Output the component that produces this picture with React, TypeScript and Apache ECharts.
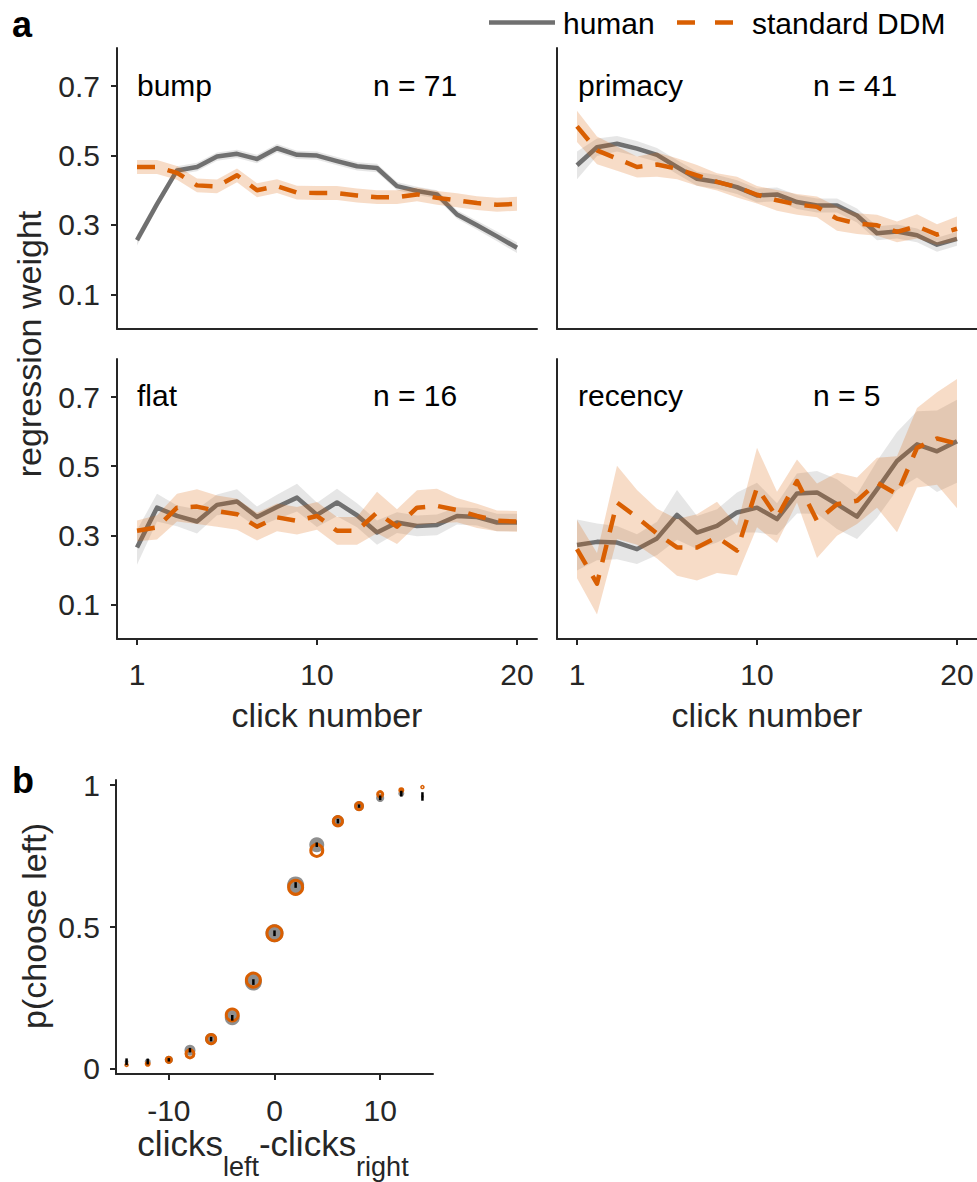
import React, { useEffect, useRef } from 'react';
import * as echarts from 'echarts';

// ---------- data ----------
const clickNumbers = [1, 2, 3, 4, 5, 6, 7, 8, 9, 10, 11, 12, 13, 14, 15, 16, 17, 18, 19, 20];
const weightTicks = [0.1, 0.3, 0.5, 0.7];
const clickTicks = [1, 10, 20];

const bumpHuman = [0.256, 0.36, 0.457, 0.467, 0.497, 0.505, 0.49, 0.521, 0.502, 0.5, 0.484, 0.469, 0.464, 0.412, 0.398, 0.388, 0.33, 0.299, 0.267, 0.234];
const bumpHumanErr = [0.015, 0.013, 0.012, 0.012, 0.012, 0.012, 0.012, 0.012, 0.012, 0.012, 0.012, 0.012, 0.012, 0.012, 0.012, 0.012, 0.012, 0.013, 0.014, 0.015];
const bumpDDM = [0.467, 0.467, 0.45, 0.414, 0.411, 0.443, 0.4, 0.412, 0.393, 0.392, 0.392, 0.385, 0.38, 0.38, 0.388, 0.378, 0.371, 0.363, 0.358, 0.361];
const bumpDDMErr = [0.02, 0.02, 0.02, 0.02, 0.02, 0.02, 0.02, 0.02, 0.02, 0.02, 0.02, 0.02, 0.02, 0.02, 0.02, 0.02, 0.02, 0.02, 0.02, 0.02];

const primacyHuman = [0.472, 0.524, 0.534, 0.52, 0.502, 0.467, 0.433, 0.424, 0.409, 0.385, 0.388, 0.366, 0.356, 0.356, 0.327, 0.276, 0.281, 0.27, 0.243, 0.26];
const primacyHumanErr = [0.04, 0.025, 0.022, 0.022, 0.02, 0.02, 0.02, 0.02, 0.02, 0.02, 0.02, 0.02, 0.02, 0.02, 0.02, 0.02, 0.02, 0.02, 0.02, 0.02];
const primacyDDM = [0.584, 0.515, 0.491, 0.467, 0.474, 0.462, 0.443, 0.424, 0.409, 0.387, 0.371, 0.359, 0.352, 0.318, 0.304, 0.299, 0.28, 0.296, 0.272, 0.289];
const primacyDDMErr = [0.045, 0.04, 0.035, 0.03, 0.035, 0.03, 0.03, 0.025, 0.03, 0.025, 0.03, 0.03, 0.03, 0.035, 0.03, 0.03, 0.03, 0.035, 0.03, 0.035];

const flatHuman = [0.265, 0.38, 0.356, 0.34, 0.388, 0.398, 0.353, 0.382, 0.409, 0.359, 0.395, 0.358, 0.308, 0.337, 0.327, 0.33, 0.356, 0.353, 0.337, 0.337];
const flatHumanErr = [0.05, 0.04, 0.03, 0.035, 0.03, 0.035, 0.03, 0.035, 0.04, 0.035, 0.04, 0.035, 0.035, 0.03, 0.03, 0.03, 0.025, 0.025, 0.025, 0.025];
const flatDDM = [0.313, 0.323, 0.38, 0.383, 0.37, 0.361, 0.325, 0.352, 0.342, 0.356, 0.313, 0.313, 0.366, 0.325, 0.38, 0.385, 0.373, 0.356, 0.342, 0.34];
const flatDDMErr = [0.03, 0.035, 0.04, 0.05, 0.045, 0.045, 0.04, 0.04, 0.04, 0.04, 0.04, 0.04, 0.06, 0.05, 0.05, 0.05, 0.035, 0.035, 0.03, 0.03];

const recencyHuman = [0.272, 0.281, 0.279, 0.26, 0.291, 0.359, 0.308, 0.327, 0.366, 0.38, 0.347, 0.421, 0.424, 0.39, 0.354, 0.433, 0.515, 0.563, 0.543, 0.572];
const recencyHumanErr = [0.074, 0.053, 0.048, 0.043, 0.048, 0.072, 0.048, 0.048, 0.058, 0.072, 0.046, 0.058, 0.062, 0.072, 0.065, 0.082, 0.084, 0.096, 0.118, 0.12];
const recencyDDM = [0.26, 0.16, 0.395, 0.352, 0.305, 0.265, 0.265, 0.294, 0.256, 0.438, 0.352, 0.457, 0.342, 0.39, 0.4, 0.452, 0.419, 0.553, 0.58, 0.565];
const recencyDDMErr = [0.084, 0.089, 0.106, 0.079, 0.072, 0.082, 0.096, 0.103, 0.072, 0.115, 0.074, 0.062, 0.108, 0.091, 0.067, 0.072, 0.11, 0.115, 0.134, 0.187];

const panelNames = ['bump', 'primacy', 'flat', 'recency'];
const panelCounts = ['n = 71', 'n = 41', 'n = 16', 'n = 5'];

const evidenceDiff = [-14, -12, -10, -8, -6, -4, -2, 0, 2, 4, 6, 8, 10, 12, 14];
const humanChoice = [0.025, 0.026, 0.032, 0.066, 0.105, 0.18, 0.306, 0.478, 0.648, 0.79, 0.873, 0.926, 0.955, 0.97, 0.96];
const humanChoiceErr = [0.012, 0.01, 0.006, 0.008, 0.008, 0.01, 0.01, 0.01, 0.01, 0.008, 0.008, 0.006, 0.008, 0.01, 0.015];
const ddmChoice = [0.014, 0.018, 0.032, 0.053, 0.105, 0.19, 0.313, 0.478, 0.64, 0.77, 0.873, 0.926, 0.968, 0.982, 0.993];
const trialCounts = [120, 250, 380, 560, 630, 810, 940, 1000, 940, 810, 630, 500, 380, 250, 60];
const choiceXTicks = [-10, 0, 10];
const choiceYTicks = [0, 0.5, 1];

// ---------- styles ----------
const FONT = "'Liberation Sans', Arial, Helvetica, sans-serif";
const INK = '#262626';
const HUMAN = '#707070';
const HUMAN_BAND = 'rgba(128,128,128,0.2)';
const DDM = '#D95F02';
const DDM_BAND = 'rgba(217,95,2,0.22)';

const panels = [
  { human: bumpHuman, humanErr: bumpHumanErr, ddm: bumpDDM, ddmErr: bumpDDMErr },
  { human: primacyHuman, humanErr: primacyHumanErr, ddm: primacyDDM, ddmErr: primacyDDMErr },
  { human: flatHuman, humanErr: flatHumanErr, ddm: flatDDM, ddmErr: flatDDMErr },
  { human: recencyHuman, humanErr: recencyHumanErr, ddm: recencyDDM, ddmErr: recencyDDMErr },
];

const gridBoxes = [
  { left: 117, top: 48, width: 420, height: 281 },
  { left: 557, top: 48, width: 420, height: 281 },
  { left: 117, top: 359, width: 420, height: 280 },
  { left: 557, top: 359, width: 420, height: 280 },
  { left: 116, top: 780, width: 317, height: 294 },
];

const panelTextPos = [
  { x1: 137, x2: 373, y: 85 },
  { x1: 578, x2: 813, y: 85 },
  { x1: 137, x2: 373, y: 395 },
  { x1: 578, x2: 813, y: 395 },
];

function axisLineStyle() {
  return { show: true, onZero: false, lineStyle: { color: INK, width: 2 } };
}

function bandSeries(idx: number, mean: number[], err: number[], fill: string, z: number) {
  return {
    type: 'custom',
    xAxisIndex: idx,
    yAxisIndex: idx,
    silent: true,
    z,
    data: [[clickNumbers[0], mean[0]]],
    renderItem: (_params: any, api: any) => {
      const up = clickNumbers.map((c, i) => api.coord([c, mean[i] + err[i]]));
      const lo = clickNumbers.map((c, i) => api.coord([c, mean[i] - err[i]])).reverse();
      return { type: 'polygon', shape: { points: up.concat(lo) }, style: { fill } };
    },
  };
}

function lineSeries(idx: number, name: string, mean: number[], color: string, dashed: boolean, z: number) {
  return {
    type: 'line',
    name,
    xAxisIndex: idx,
    yAxisIndex: idx,
    z,
    silent: true,
    symbol: 'none',
    showSymbol: false,
    data: clickNumbers.map((c, i) => [c, mean[i]]),
    lineStyle: { color, width: 4.5, type: dashed ? [18, 13] : 'solid', cap: 'butt', join: 'round' },
    itemStyle: { color },
  };
}

function markerSize(count: number) {
  const maxCount = Math.max(...trialCounts);
  return 2 + 16 * (count / maxCount);
}

function buildOption() {
  const grid = gridBoxes.map((g) => ({ ...g, outerBoundsMode: 'none', containLabel: false }));

  const xAxis: any[] = [];
  const yAxis: any[] = [];
  for (let i = 0; i < 4; i++) {
    const bottomRow = i >= 2;
    const leftCol = i % 2 === 0;
    xAxis.push({
      type: 'value',
      gridIndex: i,
      min: 0,
      max: 21,
      axisLine: axisLineStyle(),
      axisTick: { show: bottomRow, inside: false, length: 6, customValues: clickTicks, lineStyle: { color: INK, width: 2 } },
      axisLabel: { show: bottomRow, customValues: clickTicks, margin: 20, fontSize: 30, fontFamily: FONT, color: INK },
      splitLine: { show: false },
      name: bottomRow ? 'click number' : '',
      nameLocation: 'middle',
      nameGap: 59,
      nameTextStyle: { fontSize: 34, fontFamily: FONT, color: INK },
    });
    yAxis.push({
      type: 'value',
      gridIndex: i,
      min: 0,
      max: 0.81,
      axisLine: axisLineStyle(),
      axisTick: { show: leftCol, inside: false, length: 6, customValues: weightTicks, lineStyle: { color: INK, width: 2 } },
      axisLabel: { show: leftCol, customValues: weightTicks, margin: 17, fontSize: 30, fontFamily: FONT, color: INK, formatter: (v: number) => v.toFixed(1) },
      splitLine: { show: false },
    });
  }
  xAxis.push({
    type: 'value',
    gridIndex: 4,
    min: -15,
    max: 15,
    axisLine: axisLineStyle(),
    axisTick: { show: true, inside: false, length: 6, customValues: choiceXTicks, lineStyle: { color: INK, width: 2 } },
    axisLabel: { show: true, customValues: choiceXTicks, margin: 21, fontSize: 30, fontFamily: FONT, color: INK },
    splitLine: { show: false },
  });
  yAxis.push({
    type: 'value',
    gridIndex: 4,
    min: -0.018,
    max: 1.018,
    axisLine: axisLineStyle(),
    axisTick: { show: true, inside: false, length: 6, customValues: choiceYTicks, lineStyle: { color: INK, width: 2 } },
    axisLabel: { show: true, customValues: choiceYTicks, margin: 16, fontSize: 30, fontFamily: FONT, color: INK, formatter: (v: number) => String(v) },
    splitLine: { show: false },
  });

  const series: any[] = [];
  panels.forEach((p, i) => {
    series.push(bandSeries(i, p.human, p.humanErr, HUMAN_BAND, 1));
    series.push(lineSeries(i, 'human', p.human, HUMAN, false, 2));
    series.push(bandSeries(i, p.ddm, p.ddmErr, DDM_BAND, 3));
    series.push(lineSeries(i, 'standard DDM', p.ddm, DDM, true, 4));
  });

  series.push({
    type: 'scatter',
    name: 'human',
    xAxisIndex: 4,
    yAxisIndex: 4,
    z: 2,
    silent: true,
    data: evidenceDiff.map((x, i) => [x, humanChoice[i], trialCounts[i]]),
    symbol: 'circle',
    symbolSize: (v: number[]) => markerSize(v[2]),
    itemStyle: { color: '#8f8f8f', opacity: 1 },
  });
  series.push({
    type: 'scatter',
    name: 'standard DDM',
    xAxisIndex: 4,
    yAxisIndex: 4,
    z: 3,
    silent: true,
    data: evidenceDiff.map((x, i) => [x, ddmChoice[i], trialCounts[i]]),
    symbol: 'circle',
    symbolSize: (v: number[]) => Math.max(1.5, markerSize(v[2]) - 3),
    itemStyle: { color: 'rgba(0,0,0,0)', borderColor: DDM, borderWidth: 3, opacity: 1 },
  });
  series.push({
    type: 'custom',
    xAxisIndex: 4,
    yAxisIndex: 4,
    z: 4,
    silent: true,
    data: evidenceDiff.map((x, i) => [x, humanChoice[i], humanChoiceErr[i]]),
    renderItem: (_params: any, api: any) => {
      const x = api.value(0);
      const y = api.value(1);
      const e = api.value(2);
      const a = api.coord([x, y - e]);
      const b = api.coord([x, y + e]);
      return {
        type: 'line',
        shape: { x1: a[0], y1: a[1], x2: b[0], y2: b[1] },
        style: { stroke: '#000', lineWidth: 2.5 },
      };
    },
  });

  const graphic: any[] = [];
  const txt = (x: number, y: number, text: string, size: number, extra: any = {}) => ({
    type: 'text',
    x,
    y,
    silent: true,
    ...extra,
    style: { text, fontSize: size, fontFamily: FONT, fill: '#000', align: 'left', verticalAlign: 'middle', ...(extra.style || {}) },
  });

  panelNames.forEach((name, i) => {
    const pos = panelTextPos[i];
    graphic.push(txt(pos.x1, pos.y, name, 30));
    graphic.push(txt(pos.x2, pos.y, panelCounts[i], 30));
  });

  // panel letters
  graphic.push(txt(12, 24, 'a', 36, { style: { fontWeight: 'bold' } }));
  graphic.push(txt(12, 780, 'b', 36, { style: { fontWeight: 'bold' } }));

  // y axis titles
  graphic.push(txt(29, 344, 'regression weight', 34, { rotation: Math.PI / 2, style: { align: 'center', fill: INK } }));
  graphic.push(txt(34, 926, 'p(choose left)', 34, { rotation: Math.PI / 2, style: { align: 'center', fill: INK } }));

  // panel b x axis title with subscripts
  graphic.push({
    type: 'text',
    x: 273,
    y: 1126,
    silent: true,
    style: {
      text: '{m|clicks}{s|left}{m|-clicks}{s|right}',
      align: 'center',
      verticalAlign: 'top',
      fontFamily: FONT,
      fill: INK,
      rich: {
        m: { fontSize: 35, fontFamily: FONT, lineHeight: 35, verticalAlign: 'top', fill: INK, color: INK },
        s: { fontSize: 27, fontFamily: FONT, lineHeight: 54, verticalAlign: 'bottom', fill: INK, color: INK },
      },
    },
  });

  // legend
  graphic.push({ type: 'line', silent: true, shape: { x1: 489, y1: 22.5, x2: 555, y2: 22.5 }, style: { stroke: HUMAN, lineWidth: 4.5 } });
  graphic.push(txt(563, 23, 'human', 30));
  graphic.push({ type: 'line', silent: true, shape: { x1: 677, y1: 22.5, x2: 695, y2: 22.5 }, style: { stroke: DDM, lineWidth: 4.5 } });
  graphic.push({ type: 'line', silent: true, shape: { x1: 715, y1: 22.5, x2: 733, y2: 22.5 }, style: { stroke: DDM, lineWidth: 4.5 } });
  graphic.push(txt(752, 23, 'standard DDM', 30));

  return {
    animation: false,
    backgroundColor: '#ffffff',
    grid,
    xAxis,
    yAxis,
    series,
    graphic,
  };
}

export default function App() {
  const ref = useRef<HTMLDivElement>(null);
  useEffect(() => {
    if (!ref.current) return;
    const chart = echarts.init(ref.current, undefined, { renderer: 'svg' });
    chart.setOption(buildOption() as any);
    return () => chart.dispose();
  }, []);
  return (
    <div
      ref={ref}
      style={{ position: 'absolute', left: 0, top: 0, width: 977, height: 1182, background: '#fff' }}
    />
  );
}
